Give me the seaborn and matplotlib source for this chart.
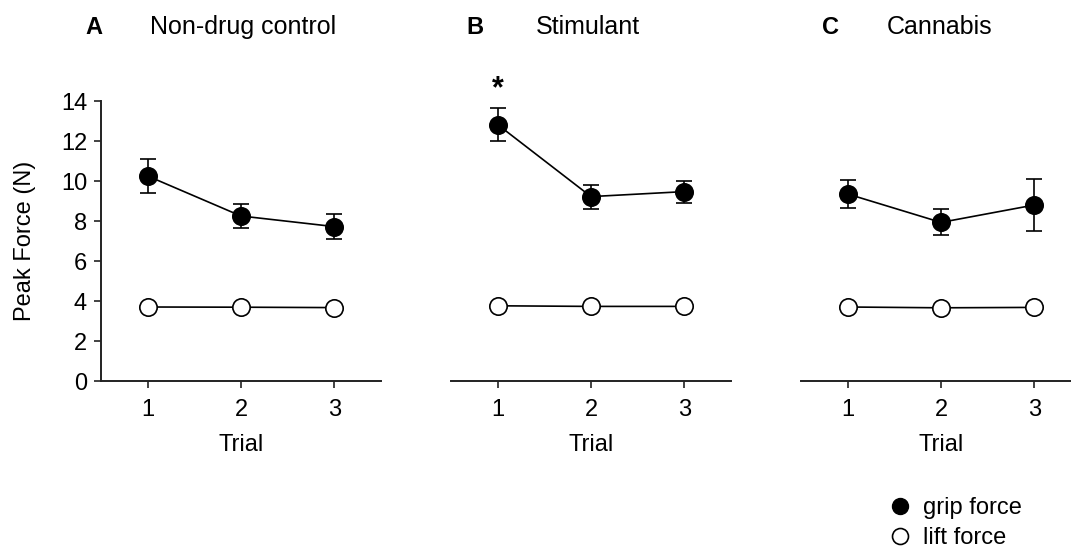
import pandas as pd
import matplotlib
matplotlib.use("Agg")
import matplotlib.pyplot as plt
from matplotlib.lines import Line2D
import seaborn as sns

# data (mean +/- error)
trials = [1, 2, 3]
panel_letters = ["A", "B", "C"]
groups = ["Non-drug control", "Stimulant", "Cannabis"]

grip_control = [10.25, 8.25, 7.72]
grip_control_err = [0.87, 0.6, 0.62]
lift_control = [3.7, 3.69, 3.67]
lift_control_err = [0.05, 0.05, 0.05]

grip_stimulant = [12.82, 9.22, 9.47]
grip_stimulant_err = [0.82, 0.6, 0.55]
lift_stimulant = [3.76, 3.73, 3.73]
lift_stimulant_err = [0.05, 0.05, 0.05]

grip_cannabis = [9.35, 7.93, 8.8]
grip_cannabis_err = [0.7, 0.65, 1.3]
lift_cannabis = [3.7, 3.66, 3.68]
lift_cannabis_err = [0.05, 0.05, 0.05]

#%%
rows = []
series = {
    "Non-drug control": (grip_control, grip_control_err, lift_control, lift_control_err),
    "Stimulant": (grip_stimulant, grip_stimulant_err, lift_stimulant, lift_stimulant_err),
    "Cannabis": (grip_cannabis, grip_cannabis_err, lift_cannabis, lift_cannabis_err),
}
for g, (gm, ge, lm, le) in series.items():
    for i, t in enumerate(trials):
        rows.append({"group": g, "trial": t, "measure": "grip force", "force": gm[i], "err": ge[i]})
        rows.append({"group": g, "trial": t, "measure": "lift force", "force": lm[i], "err": le[i]})
df = pd.DataFrame(rows)

#%%
sns.set_style("ticks")
plt.rcParams["font.family"] = ["Liberation Sans", "DejaVu Sans"]
plt.rcParams["text.color"] = "black"
plt.rcParams["axes.labelcolor"] = "black"
plt.rcParams["xtick.color"] = "black"
plt.rcParams["ytick.color"] = "black"
FS = 17

fig = plt.figure(figsize=(10.71, 5.5), dpi=100)
W, H = 1071, 550
lefts = [101, 451, 801]
ax_w, ax_top, ax_bot = 280, 101, 381

face = {"grip force": "black", "lift force": "white"}

axes = []
for k, g in enumerate(groups):
    ax = fig.add_axes([lefts[k] / W, 1 - ax_bot / H, ax_w / W, (ax_bot - ax_top) / H])
    axes.append(ax)
    sub = df[df["group"] == g]
    for m in ["lift force", "grip force"]:
        s = sub[sub["measure"] == m]
        ax.errorbar(s["trial"], s["force"], yerr=s["err"], fmt="none", ecolor="black",
                    elinewidth=1.2, capsize=5.5, capthick=1.2, zorder=1)
        sns.lineplot(data=s, x="trial", y="force", ax=ax, color="black", linewidth=1.2,
                     marker="o", markersize=12.5, markerfacecolor=face[m],
                     markeredgecolor="black", markeredgewidth=1.2, errorbar=None, zorder=2)
    ax.set_xlim(0.5, 3.5)
    ax.set_ylim(0, 14)
    ax.set_xticks(trials)
    ax.set_xlabel("Trial", fontsize=FS, labelpad=9)
    ax.tick_params(axis="both", labelsize=FS, width=1.2, length=5, color="#222222")
    ax.tick_params(axis="x", pad=8)
    ax.tick_params(axis="y", pad=5)
    for sp in ["top", "right"]:
        ax.spines[sp].set_visible(False)
    for sp in ["bottom", "left"]:
        ax.spines[sp].set_linewidth(1.4)
        ax.spines[sp].set_color("#222222")
    if k == 0:
        ax.set_yticks(range(0, 15, 2))
        ax.set_ylabel("Peak Force (N)", fontsize=FS, labelpad=18)
    else:
        ax.spines["left"].set_visible(False)
        ax.set_yticks([])
        ax.set_ylabel("")

# panel titles
letter_x = [85, 466, 822]
title_x = [150, 536, 887]
for k in range(3):
    fig.text(letter_x[k] / W, 1 - 27 / H, panel_letters[k], fontsize=FS, fontweight="bold",
             ha="left", va="center")
    fig.text(title_x[k] / W, 1 - 27 / H, groups[k], fontsize=18, ha="left", va="center")

# significance marker
axes[1].text(1, 14.6, "*", fontsize=22, fontweight="bold", ha="center", va="center", clip_on=False)

# legend
handles = [
    Line2D([], [], linestyle="none", marker="o", markersize=11.5, markerfacecolor="black",
           markeredgecolor="black", label="grip force"),
    Line2D([], [], linestyle="none", marker="o", markersize=11.5, markerfacecolor="white",
           markeredgecolor="black", markeredgewidth=1.2, label="lift force"),
]
fig.legend(handles=handles, loc="center left", bbox_to_anchor=(876 / W, 1 - 523 / H),
           frameon=False, fontsize=FS, handlelength=1.0, handletextpad=0.5,
           labelspacing=0.35, borderpad=0)

fig.savefig("out.png", dpi=100)
